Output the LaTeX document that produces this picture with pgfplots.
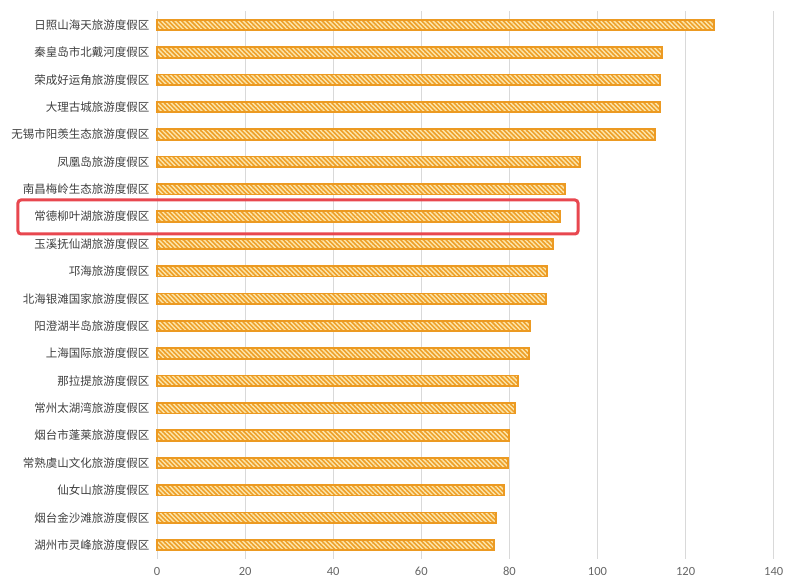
\documentclass[border=0pt]{standalone}
\usepackage{pgfplots}
\pgfplotsset{compat=1.18}
\usepackage{fontspec}
\setmainfont{Carlito}
\newfontfamily\cjk{Noto Sans CJK SC}
\usetikzlibrary{patterns.meta}
\definecolor{barorange}{HTML}{EE9F28}
\definecolor{barborder}{HTML}{EC9A22}
\definecolor{barlight}{HTML}{FCE6AC}
\definecolor{redbox}{HTML}{E8474F}
\definecolor{labgray}{HTML}{404040}
\definecolor{tickgray}{HTML}{666666}
\begin{document}
\begin{tikzpicture}
\useasboundingbox (-157bp,-29.3bp) rectangle (643bp,558.7bp);
\begin{axis}[
  at={(0bp,0bp)}, anchor=south west,
  scale only axis, width=616.7bp, height=547.4bp,
  xmin=0, xmax=140, ymin=-0.5, ymax=19.5,
  y dir=reverse,
  xtick={0,20,...,140},
  ytick={0,...,19},
  yticklabels={日照山海天旅游度假区,秦皇岛市北戴河度假区,荣成好运角旅游度假区,大理古城旅游度假区,无锡市阳羡生态旅游度假区,凤凰岛旅游度假区,南昌梅岭生态旅游度假区,常德柳叶湖旅游度假区,玉溪抚仙湖旅游度假区,邛海旅游度假区,北海银滩国家旅游度假区,阳澄湖半岛旅游度假区,上海国际旅游度假区,那拉提旅游度假区,常州太湖湾旅游度假区,烟台市蓬莱旅游度假区,常熟虞山文化旅游度假区,仙女山旅游度假区,烟台金沙滩旅游度假区,湖州市灵峰旅游度假区},
  yticklabel style={font=\cjk\fontsize{11.5bp}{13bp}\selectfont, text=labgray, xshift=-4bp},
  xticklabel style={font=\fontsize{12.5bp}{14bp}\selectfont, text=tickgray, yshift=-5bp},
  /pgf/number format/assume math mode=true,
  xmajorgrids,
  grid style={draw=black!15, line width=0.8bp},
  axis line style={draw=none},
  major tick length=0pt,
  clip=false,
]
\addplot[xbar, bar width=10.5bp, draw=barborder, line width=1.8bp,
  preaction={fill=barorange},
  pattern={Lines[angle=-45,distance=3.2bp,line width=1.4bp]}, pattern color=barlight]
coordinates {
(126.4,0) (114.6,1) (114.2,2) (114.2,3) (113.1,4)
(96.0,5) (92.6,6) (91.5,7) (89.9,8) (88.5,9)
(88.3,10) (84.7,11) (84.4,12) (82.0,13) (81.3,14)
(79.9,15) (79.7,16) (78.8,17) (77.0,18) (76.5,19)
};
\end{axis}
\draw[draw=redbox, line width=3bp, rounded corners=3bp] (-139bp,324.7bp) rectangle (421bp,358.7bp);
\end{tikzpicture}
\end{document}
